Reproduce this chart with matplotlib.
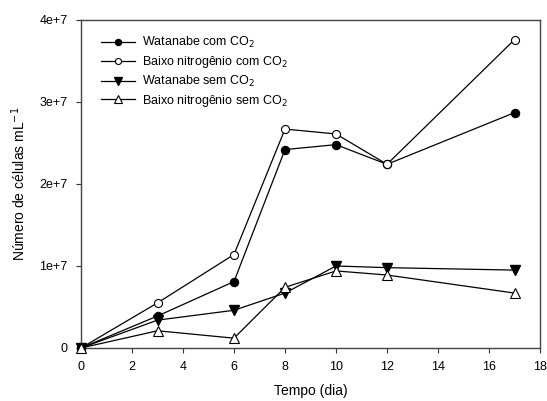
import matplotlib
matplotlib.use("Agg")
import matplotlib.pyplot as plt

plt.rcParams['font.family'] = ['Liberation Sans', 'DejaVu Sans']

days = [0, 3, 6, 8, 10, 12, 17]
wat_com = [0.0, 0.39e7, 0.81e7, 2.42e7, 2.48e7, 2.24e7, 2.87e7]
baixo_com = [0.0, 0.55e7, 1.14e7, 2.67e7, 2.61e7, 2.24e7, 3.76e7]
wat_sem = [0.0, 0.34e7, 0.46e7, 0.67e7, 1.00e7, 0.98e7, 0.95e7]
baixo_sem = [0.0, 0.21e7, 0.12e7, 0.74e7, 0.94e7, 0.89e7, 0.67e7]

labels = ['Watanabe com CO$_2$', 'Baixo nitrogênio com CO$_2$',
          'Watanabe sem CO$_2$', 'Baixo nitrogênio sem CO$_2$']
xticks = [0, 2, 4, 6, 8, 10, 12, 14, 16, 18]
yticks = [0, 1e7, 2e7, 3e7, 4e7]
yticklabels = ['0', '1e+7', '2e+7', '3e+7', '4e+7']

fig = plt.figure(figsize=(5.47, 4.01), dpi=100)
ax = fig.add_axes([81/547, 53/401, 459/547, 328/401])

lw = 0.9
ms = 5.8
ax.plot(days, wat_com, '-o', color='black', lw=lw, ms=ms, mfc='black', mec='black', label=labels[0], clip_on=False, zorder=3)
ax.plot(days, baixo_com, '-o', color='black', lw=lw, ms=ms, mfc='white', mec='black', mew=0.8, label=labels[1], clip_on=False, zorder=3)
ax.plot(days, wat_sem, '-v', color='black', lw=lw, ms=ms+1, mfc='black', mec='black', label=labels[2], clip_on=False, zorder=3)
ax.plot(days, baixo_sem, '-^', color='black', lw=lw, ms=ms+1, mfc='white', mec='black', mew=0.8, label=labels[3], clip_on=False, zorder=3)

ax.set_xlim(0, 18)
ax.set_ylim(0, 4e7)
ax.set_xticks(xticks)
ax.set_xticklabels([str(t) for t in xticks])
ax.set_yticks(yticks)
ax.set_yticklabels(yticklabels)
ax.tick_params(direction='out', length=3.5, width=0.8, labelsize=9, colors='#333333', labelcolor='black', pad=6)
for s in ax.spines.values():
    s.set_color('#444444')
    s.set_linewidth(1.0)

ax.set_xlabel('Tempo (dia)', fontsize=10, labelpad=8)
ax.set_ylabel('Número de células mL$^{-1}$', fontsize=10, labelpad=8)

leg = ax.legend(loc='upper left', bbox_to_anchor=(0.025, 0.98), frameon=False, fontsize=9,
                handlelength=2.7, handletextpad=0.6, labelspacing=0.3, borderaxespad=0.3,
                markerscale=0.75)

fig.savefig('out.png', dpi=100)
